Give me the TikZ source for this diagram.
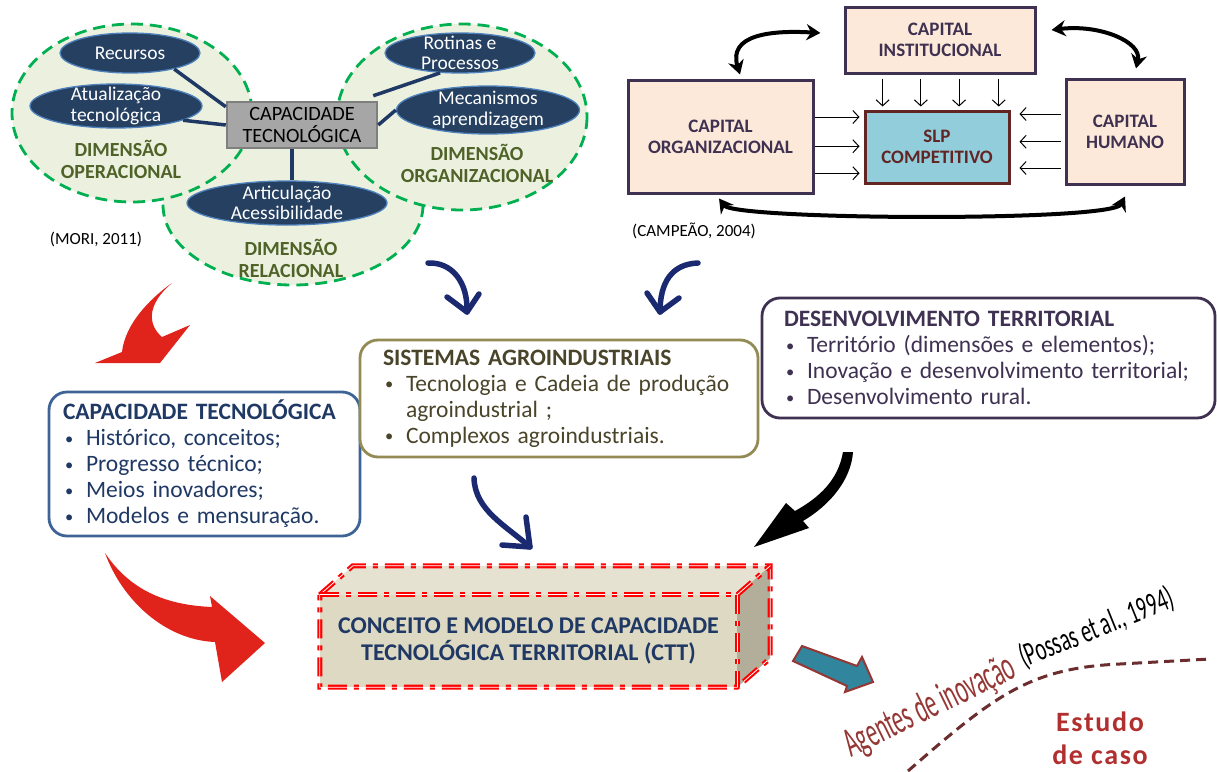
\documentclass[tikz,border=0pt]{standalone}
\usepackage{fontspec}
\setmainfont{Carlito}
\usetikzlibrary{arrows.meta,calc,shapes.geometric}
\definecolor{dimgreen}{HTML}{00B050}
\definecolor{dimfill}{HTML}{EBF1DE}
\definecolor{dimtext}{HTML}{4F6228}
\definecolor{ellblue}{HTML}{254061}
\definecolor{ellborder}{HTML}{4F81BD}
\definecolor{navy}{HTML}{1F3864}
\definecolor{capgray}{HTML}{A6A6A6}
\definecolor{capgrayb}{HTML}{7F7F7F}
\definecolor{peach}{HTML}{FDE9D9}
\definecolor{capborder}{HTML}{3F3151}
\definecolor{slpfill}{HTML}{92CDDC}
\definecolor{slpborder}{HTML}{632523}
\definecolor{blueborder}{HTML}{3E6497}
\definecolor{bluetext}{HTML}{1F3864}
\definecolor{oliveborder}{HTML}{948A54}
\definecolor{olivetext}{HTML}{4A452A}
\definecolor{purpborder}{HTML}{3F3151}
\definecolor{arrred}{HTML}{E0231B}
\definecolor{arrblue}{HTML}{1B2A70}
\definecolor{cttfront}{HTML}{DDD9C3}
\definecolor{ctttop}{HTML}{E6E2D2}
\definecolor{cttside}{HTML}{B2AE9A}
\definecolor{teal}{HTML}{31859C}
\definecolor{tealb}{HTML}{953735}
\definecolor{agred}{HTML}{953735}
\definecolor{dashbrown}{HTML}{6B2D2D}
\definecolor{estred}{HTML}{B22F2F}
\newcommand{\myfs}[2]{\fontsize{#1}{#2}\selectfont}
\newcommand{\blt}{\makebox[23pt][l]{\hspace{2pt}\raisebox{1.5pt}{\scalebox{0.7}{\textbullet}}}}
\begin{document}
\begin{tikzpicture}[x=1pt,y=-1pt,
  dimarea/.style={fill=dimfill, draw=dimgreen, line width=2.8pt, dash pattern=on 12pt off 7pt},
  darkell/.style={ellipse, fill=ellblue, draw=ellborder, line width=1.3pt, text=white, inner sep=-16pt, align=center, font=\myfs{19.5}{20.5}},
  conn/.style={draw=navy, line width=3.5pt},
  dimlabel/.style={text=dimtext, font=\bfseries\myfs{20}{22}, align=center, inner sep=0pt},
  cite/.style={font=\myfs{17}{19}, inner sep=0pt},
  capbox/.style={rectangle, draw=capborder, line width=3pt, fill=peach, text=capborder, font=\bfseries\myfs{19}{21}, align=center, inner sep=0pt},
  slpbox/.style={rectangle, draw=slpborder, line width=3pt, fill=slpfill, text=slpborder, font=\bfseries\myfs{19}{21}, align=center, inner sep=0pt},
  thinarr/.style={draw=black, line width=1pt, -{Straight Barb[length=6pt,width=13pt]}},
  bigarr/.style={draw=black, line width=4pt, {Stealth[length=14pt,width=16pt]}-{Stealth[length=14pt,width=16pt]}},
  listbox/.style={rectangle, rounded corners=18pt, line width=2.8pt, fill=white, align=left, font=\myfs{23.5}{26}, inner ysep=0pt},
  bluearr/.style={draw=arrblue, line width=5.5pt, line cap=round, line join=round},
  cttborder/.style={draw=red, line width=2.1pt, double=white, double distance=0.8pt, dash pattern=on 19pt off 7pt on 5pt off 7pt}
]
\useasboundingbox (0,0) rectangle (1217,771);

% ---------- cluster (MORI) ----------
\draw[dimarea] (293,205) ellipse [x radius=130, y radius=80];
\draw[dimarea] (132,113) ellipse [x radius=120, y radius=89];
\draw[dimarea] (462,117) ellipse [x radius=125, y radius=93];

\node[dimlabel] (lop) at (121,159) {DIMENSÃO\\OPERACIONAL};
\node[dimlabel] (lrel) at (291,258) {DIMENSÃO\\RELACIONAL};
\node[dimlabel] (lorg) at (477,163) {DIMENSÃO\\ORGANIZACIONAL};

\node[rectangle, draw=capgrayb, fill=capgray, line width=2.5pt, minimum width=150pt, minimum height=46pt, inner sep=0pt, align=center, font=\myfs{20.3}{22}] (cap) at (302,125) {CAPACIDADE\\TECNOLÓGICA};

\node[darkell, minimum width=140pt, minimum height=40pt] (rec) at (130,53) {Recursos};
\node[darkell, minimum width=172pt, minimum height=44pt] (atu) at (116,106) {Atualização\\tecnológica};
\node[darkell, minimum width=150pt, minimum height=40pt] (rot) at (460,53) {Rotinas e\\Processos};
\node[darkell, minimum width=183pt, minimum height=48pt] (mec) at (488,110) {Mecanismos\\aprendizagem};
\node[darkell, minimum width=200pt, minimum height=44pt] (art) at (287,203) {Articulação\\Acessibilidade};

\draw[conn] (rec.-20) -- ([yshift=-6pt]cap.north west);
\draw[conn] (atu.-12) -- (cap.west);
\draw[conn] (rot.-135) -- ([xshift=-5pt,yshift=5pt]cap.north east);
\draw[conn] (mec.west) -- (cap.east);
\draw[conn] ([xshift=5pt]art.north) -- ([xshift=5pt]art.north |- cap.south);

\node[cite] (mori) at (96,239) {(MORI, 2011)};

% ---------- capitals (CAMPEAO) ----------
\node[capbox, minimum width=190pt, minimum height=66pt] (inst) at (940,40) {CAPITAL\\INSTITUCIONAL};
\node[capbox, minimum width=185pt, minimum height=113pt] (org) at (720.5,136.5) {CAPITAL\\ORGANIZACIONAL};
\node[capbox, minimum width=118pt, minimum height=105pt] (hum) at (1125,131.5) {CAPITAL\\HUMANO};
\node[slpbox, minimum width=144pt, minimum height=72pt] (slp) at (937,147) {SLP\\COMPETITIVO};

\foreach \f in {0.13,0.39,0.65,0.92}{
  \coordinate (t) at ($(slp.north west)!\f!(slp.north east)$);
  \draw[thinarr, shorten <=4pt, shorten >=3pt] (t |- inst.south) -- (t);
}
\foreach \f in {0.10,0.49,0.85}{
  \coordinate (t) at ($(slp.north west)!\f!(slp.south west)$);
  \draw[thinarr, shorten >=4pt] (org.east |- t) -- (t);
}
\foreach \f in {0.06,0.43,0.78}{
  \coordinate (t) at ($(slp.north east)!\f!(slp.south east)$);
  \draw[thinarr, shorten <=4pt, shorten >=9pt] (hum.west |- t) -- (t);
}
\draw[bigarr] ([xshift=19.5pt,yshift=4pt]org.north) .. controls (728,35) and (770,30) .. ([xshift=-23pt,yshift=7pt]inst.west);
\draw[bigarr] ([xshift=15pt,yshift=10pt]inst.east) .. controls (1100,24) and (1142,42) .. ([xshift=11pt,yshift=9pt]hum.north);
\draw[bigarr] ([xshift=-1.5pt,yshift=-4pt]org.south) .. controls (735,220) and (1112,222) .. ([yshift=-11pt]hum.south);

\node[cite] (camp) at (694,231) {(CAMPEÃO, 2004)};

% ---------- middle list boxes ----------
\node[listbox, draw=blueborder, text=bluetext, text width=283pt, inner xsep=14pt, minimum height=144pt] (ctbox) at (204.5,464)
 {{\bfseries CAPACIDADE TECNOLÓGICA}\\
  \blt Histórico, conceitos;\\
  \blt Progresso técnico;\\
  \blt Meios inovadores;\\
  \blt Modelos e mensuração.};
\node[listbox, draw=oliveborder, text=olivetext, text width=352pt, inner xsep=23pt, minimum height=117pt] (sabox) at (559,398.5)
 {{\bfseries SISTEMAS AGROINDUSTRIAIS}\\
  \blt Tecnologia e Cadeia de produção\\
  \hspace*{23pt}agroindustrial ;\\
  \blt Complexos agroindustriais.};
\node[listbox, draw=purpborder, text=purpborder, text width=409pt, inner xsep=22pt, minimum height=120pt] (dtbox) at (988.5,358)
 {{\bfseries DESENVOLVIMENTO TERRITORIAL}\\
  \blt Território (dimensões e elementos);\\
  \blt Inovação e desenvolvimento territorial;\\
  \blt Desenvolvimento rural.};

% ---------- blue curved arrows ----------
\coordinate (ba1s) at (428,263); \coordinate (ba1e) at (467,312);
\draw[bluearr] (ba1s) .. controls (452,262) and (468,282) .. (ba1e);
\draw[bluearr] (447,297) -- (ba1e) -- (479,294);
\coordinate (ba2s) at (698,263); \coordinate (ba2e) at (660,312);
\draw[bluearr] (ba2s) .. controls (672,264) and (660,282) .. (ba2e);
\draw[bluearr] (647,293) -- (ba2e) -- (679,298);
\coordinate (ba3s) at (474,478); \coordinate (ba3e) at (530,547);
\draw[bluearr] (ba3s) .. controls (475,510) and (505,525) .. (ba3e);
\draw[bluearr] (526,517) -- (ba3e) -- (502,545);

% ---------- red arrows ----------
\fill[arrred] (172,283) .. controls (148,300) and (125,325) .. (122,352) -- (95,363) -- (160,363) -- (190,325) -- (162,337) .. controls (148,325) and (146,305) .. (172,283) -- cycle;
\fill[arrred] (105,553) .. controls (130,590) and (165,605) .. (212,607) -- (210,596) -- (265,643) -- (222,682) -- (215,642) .. controls (165,640) and (122,600) .. (105,553) -- cycle;

% ---------- black arrow ----------
\fill[black] (843,452) .. controls (838,480) and (820,497) .. (795,511) -- (786,503) -- (754,547) -- (809,528) -- (803,521) .. controls (830,505) and (851,480) .. (853,452) -- cycle;

% ---------- CTT box ----------
\node[rectangle, fill=cttfront, minimum width=417pt, minimum height=92pt, inner sep=0pt, align=center, text=navy, font=\bfseries\myfs{24}{27}] (ctt) at (528.5,641) {CONCEITO E MODELO DE CAPACIDADE\\TECNOLÓGICA TERRITORIAL (CTT)};
\fill[ctttop] (ctt.north west) -- ++(33,-29) -- ($(ctt.north east)+(33,-29)$) -- (ctt.north east) -- cycle;
\fill[cttside] (ctt.north east) -- ++(33,-29) -- ($(ctt.south east)+(33,-29)$) -- (ctt.south east) -- cycle;
\draw[cttborder] (ctt.north west) -- ++(33,-29) -- ($(ctt.north east)+(33,-29)$) -- ($(ctt.south east)+(33,-29)$) -- (ctt.south east) -- (ctt.south west) -- cycle;
\draw[cttborder] (ctt.north west) -- (ctt.north east) -- (ctt.south east);
\draw[cttborder] (ctt.north east) -- ++(33,-29);

% ---------- teal block arrow ----------
\draw[fill=teal, draw=tealb, line width=2pt, line join=miter] (802,646) -- (857,666) -- (862,657) -- (873,682) -- (845,692) -- (847,686) -- (793,661) -- cycle;

% ---------- dashed curve and texts ----------
\draw[dashbrown, line width=3pt, dash pattern=on 10pt off 6pt] (908,771) .. controls (995,695) and (1030,668) .. (1120,664) -- (1210,659);
\node[anchor=base west, rotate=26, inner sep=0pt, text=agred, font=\myfs{42}{46}] (agt) at (851,758) {\scalebox{0.53}[1]{Agentes de inovação}};
\node[anchor=base west, rotate=22, inner sep=0pt, font=\myfs{33}{36}] (pos) at (1024,668) {\scalebox{0.62}[1]{(Possas et al., 1994)}};
\node[align=center, inner sep=0pt, text=estred, font=\bfseries\addfontfeature{LetterSpace=6}\myfs{28}{33}] (est) at (1100,738) {Estudo\\de caso};
\end{tikzpicture}
\end{document}
